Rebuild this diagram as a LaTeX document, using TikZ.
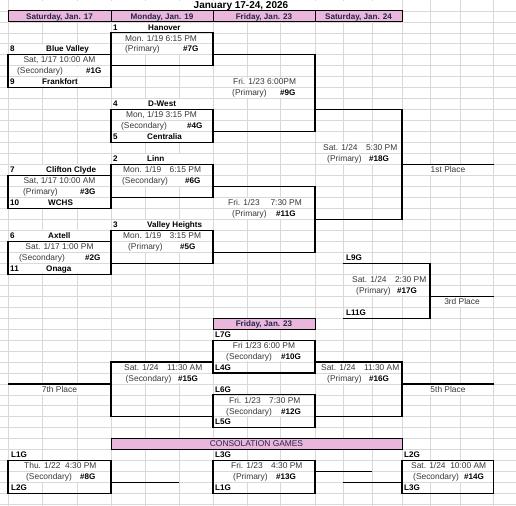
\documentclass[tikz,border=0pt]{standalone}
\usepackage{fontspec}
\setmainfont{Liberation Sans}
\usepackage{tikz}
\usetikzlibrary{positioning}
\definecolor{hdrpink}{RGB}{234,183,220}
\definecolor{hdrtext}{RGB}{36,36,70}
\newcommand{\merged}[3]{\fill[white] ({#1+0.7},{#3+0.07}) rectangle ({#2-0.7},{#3+0.93});}

\begin{document}
\begin{tikzpicture}[
            x=1pt,y=-10.97pt,
            cell/.style={inner sep=0pt,text height=6.2pt,text depth=1.6pt,font=\fontsize{8.4}{9}\selectfont,text=black!78},
            info/.style={cell,anchor=base west},
            mid/.style={cell,anchor=base},
            team/.style={cell,anchor=base west,font=\fontsize{8.1}{9}\selectfont\bfseries,text=black},
            day/.style={cell,anchor=base,font=\fontsize{8.1}{9}\selectfont\bfseries,text=hdrtext},
            grid/.style={draw=black!15,line width=0.8pt},
            brk/.style={draw,line width=1.1pt},
            hdr/.style={fill=hdrpink,draw,line width=1pt}
          ]
          \useasboundingbox (0,0) rectangle (516,46.04);
          %grid
          \foreach \cx in {8,42,77,111,145,179,213,247,280,315,343,372,402,430,460,493.5}
            {\draw[grid] (\cx,0) -- (\cx,46.1);}
          \foreach \ry in {1,...,46}
            {\draw[grid] (0,\ry) -- (516,\ry);}

          %merged cells
          \fill[white] (8.7,0.07) rectangle (401.3,0.93);
          \foreach \xa/\xb/\ry in {8/111/4,8/111/5,8/111/6,8/111/7,8/111/15,8/111/16,8/111/17,8/111/18,
              8/111/21,8/111/22,8/111/23,8/111/24,
              111/213/2,111/213/3,111/213/4,111/213/9,111/213/10,111/213/11,111/213/12,
              111/213/14,111/213/15,111/213/16,111/213/20,111/213/21,111/213/22,
              213/315/7,213/315/8,213/315/18,213/315/19,315/402/13,315/402/14,402/493.5/15,
              343/430/25,343/430/26,430/493.5/27,213/315/31,213/315/32,111/213/33,111/213/34,
              315/402/33,315/402/34,8/111/35,402/493.5/35,213/315/36,213/315/37,
              8/111/42,8/111/43,213/315/42,213/315/43,402/493.5/42,402/493.5/43}
            {\merged{\xa}{\xb}{\ry}}

          %headers
          \draw[hdr] (8,1) rectangle (111,2);
          \draw[hdr] (111,1) rectangle (213,2);
          \draw[hdr] (213,1) rectangle (315,2);
          \draw[hdr] (315,1) rectangle (402,2);
          \draw[hdr] (213,29) rectangle (315,30);
          \draw[hdr] (111,40) rectangle (402,41);

          %brackets
          \draw[brk] (8,5) rectangle (111,8);
          \draw[brk] (8,16) rectangle (111,19);
          \draw[brk] (8,22) rectangle (111,25);
          \draw[brk] (111,3) rectangle (213,6);
          \draw[brk] (111,10) rectangle (213,13);
          \draw[brk] (111,15) rectangle (213,18);
          \draw[brk] (111,21) rectangle (213,24);
          \draw[brk] (213,5) -| (315,12) -- (213,12);
          \draw[brk] (213,17) -| (315,23) -- (213,23);
          \draw[brk] (315,10) -| (402,20) -- (315,20);
          \draw[brk] (402,15) -- (493.5,15);
          \draw[brk] (343,24) -| (430,29) -- (343,29);
          \draw[brk] (430,27) -- (493.5,27);
          \draw[brk] (213,31) rectangle (315,34);
          \draw[brk] (213,36) rectangle (315,39);
          \draw[brk] (213,33) -- (111,33) -- (111,38) -- (213,38);
          \draw[brk] (315,33) -| (402,38) -- (315,38);
          \draw[brk] (8,35) -- (111,35);
          \draw[brk] (402,35) -- (493.5,35);
          \draw[brk] (8,42) rectangle (111,45);
          \draw[brk] (213,42) rectangle (315,45);
          \draw[brk] (402,42) rectangle (493.5,45);
          \draw[brk] (111,44) -- (179,44);
          \draw[brk] (315,43) -- (372,43);
          \draw[brk] (343,44) -- (402,44);

          %titles
          \node[team,anchor=base,font=\fontsize{10}{12}\selectfont\bfseries] (title) at (241,0.78) {January 17-24, 2026};
          \node[day] (sat17) at (59.5,1.74) {Saturday, Jan. 17};
          \node[day] (mon19) at (162,1.74) {Monday, Jan. 19};
          \node[day] (fri23) at (264,1.74) {Friday, Jan. 23};
          \node[day] (sat24) at (358.5,1.74) {Saturday, Jan. 24};
          \node[day] (fri23b) at (264,29.74) {Friday, Jan. 23};
          \node[day,font=\fontsize{8.4}{9}\selectfont] (cons) at (256.5,40.74) {CONSOLATION GAMES};

          %saturday jan 17
          \node[team] (s8) at (10,4.74) {8};
          \node[team] (bv) at (46,4.74) {Blue Valley};
          \node[mid] (d1) at (59.5,5.74) {Sat, 1/17 10:00 AM};
          \node[info] (p1) at (17,6.74) {(Secondary)};
          \node[team] (g1) at (86,6.74) {\#1G};
          \node[team] (s9) at (10,7.74) {9};
          \node[team] (fk) at (42,7.74) {Frankfort};
          \node[team] (s7) at (10,15.74) {7};
          \node[team] (cc) at (46,15.74) {Clifton Clyde};
          \node[mid] (d3) at (59.5,16.74) {Sat, 1/17 10:00 AM};
          \node[info] (p3) at (23,17.74) {(Primary)};
          \node[team] (g3) at (80,17.74) {\#3G};
          \node[team] (s10) at (10,18.74) {10};
          \node[team] (wc) at (48,18.74) {WCHS};
          \node[team] (s6) at (10,21.74) {6};
          \node[team] (ax) at (48,21.74) {Axtell};
          \node[mid] (d2) at (59.5,22.74) {Sat. 1/17 1:00 PM};
          \node[info] (p2) at (19,23.74) {(Secondary)};
          \node[team] (g2) at (85,23.74) {\#2G};
          \node[team] (s11) at (10,24.74) {11};
          \node[team] (on) at (46,24.74) {Onaga};

          %monday jan 19
          \node[team] (s1) at (113,2.74) {1};
          \node[team] (hn) at (148,2.74) {Hanover};
          \node[mid] (d7) at (161,3.74) {Mon. 1/19 6:15 PM};
          \node[info] (p7) at (125,4.74) {(Primary)};
          \node[team] (g7) at (183,4.74) {\#7G};
          \node[team] (s4) at (113,9.74) {4};
          \node[team] (dw) at (148,9.74) {D-West};
          \node[mid] (d4) at (161.5,10.74) {Mon, 1/19 3:15 PM};
          \node[info] (p4) at (121,11.74) {(Secondary)};
          \node[team] (g4) at (187,11.74) {\#4G};
          \node[team] (s5) at (113,12.74) {5};
          \node[team] (ce) at (147,12.74) {Centralia};
          \node[team] (s2) at (113,14.74) {2};
          \node[team] (ln) at (147,14.74) {Linn};
          \node[info] (d6) at (123,15.74) {Mon. 1/19\quad 6:15 PM};
          \node[info] (p6) at (122,16.74) {(Secondary)};
          \node[team] (g6) at (185,16.74) {\#6G};
          \node[team] (s3) at (113,20.74) {3};
          \node[team] (vh) at (147,20.74) {Valley Heights};
          \node[info] (d5) at (123,21.74) {Mon. 1/19\quad 3:15 PM};
          \node[info] (p5) at (128,22.74) {(Primary)};
          \node[team] (g5) at (180,22.74) {\#5G};

          %friday jan 23
          \node[info] (d9) at (233,7.74) {Fri. 1/23 6:00PM};
          \node[info] (p9) at (232,8.74) {(Primary)};
          \node[team] (g9) at (280,8.74) {\#9G};
          \node[info] (d11) at (228,18.74) {Fri. 1/23\quad\ 7:30 PM};
          \node[info] (p11) at (232,19.74) {(Primary)};
          \node[team] (g11) at (276,19.74) {\#11G};

          %saturday jan 24
          \node[info] (d18) at (323,13.74) {Sat. 1/24\quad 5:30 PM};
          \node[info] (p18) at (327,14.74) {(Primary)};
          \node[team] (g18) at (369,14.74) {\#18G};
          \node[mid] (first) at (448,15.74) {1st Place};
          \node[team] (l9) at (346,23.74) {L9G};
          \node[info] (d17) at (352,25.74) {Sat. 1/24\quad 2:30 PM};
          \node[info] (p17) at (356,26.74) {(Primary)};
          \node[team] (g17) at (397,26.74) {\#17G};
          \node[team] (l11) at (346,28.74) {L11G};
          \node[mid] (third) at (462,27.74) {3rd Place};

          %placement games
          \node[team] (l7) at (215,30.74) {L7G};
          \node[mid] (d10) at (264,31.74) {Fri 1/23 6:00 PM};
          \node[info] (p10) at (226,32.74) {(Secondary)};
          \node[team] (g10) at (281,32.74) {\#10G};
          \node[team] (l4) at (215,33.74) {L4G};
          \node[info] (d15) at (124,33.74) {Sat. 1/24\quad 11:30 AM};
          \node[info] (p15) at (125.5,34.74) {(Secondary)};
          \node[team] (g15) at (178,34.74) {\#15G};
          \node[mid] (seventh) at (59.5,35.74) {7th Place};
          \node[info] (d16) at (321,33.74) {Sat. 1/24\quad 11:30 AM};
          \node[info] (p16) at (327,34.74) {(Primary)};
          \node[team] (g16) at (369,34.74) {\#16G};
          \node[mid] (fifth) at (448,35.74) {5th Place};
          \node[team] (l6) at (215,35.74) {L6G};
          \node[info] (d12) at (229,36.74) {Fri. 1/23\quad 7:30 PM};
          \node[info] (p12) at (226,37.74) {(Secondary)};
          \node[team] (g12) at (281,37.74) {\#12G};
          \node[team] (l5) at (215,38.74) {L5G};

          %consolation
          \node[team] (l1a) at (11,41.74) {L1G};
          \node[info] (d8) at (24,42.74) {Thu. 1/22\ \ 4:30 PM};
          \node[info] (p8) at (26,43.74) {(Secondary)};
          \node[team] (g8) at (80,43.74) {\#8G};
          \node[team] (l2a) at (11,44.74) {L2G};
          \node[team] (l3a) at (215,41.74) {L3G};
          \node[info] (d13) at (231,42.74) {Fri. 1/23\quad 4:30 PM};
          \node[info] (p13) at (233,43.74) {(Primary)};
          \node[team] (g13) at (276,43.74) {\#13G};
          \node[team] (l1b) at (215,44.74) {L1G};
          \node[team] (l2b) at (404,41.74) {L2G};
          \node[info] (d14) at (411,42.74) {Sat. 1/24\ \ 10:00 AM};
          \node[info] (p14) at (413,43.74) {(Secondary)};
          \node[team] (g14) at (464,43.74) {\#14G};
          \node[team] (l3b) at (404,44.74) {L3G};

      \end{tikzpicture}
\end{document}
